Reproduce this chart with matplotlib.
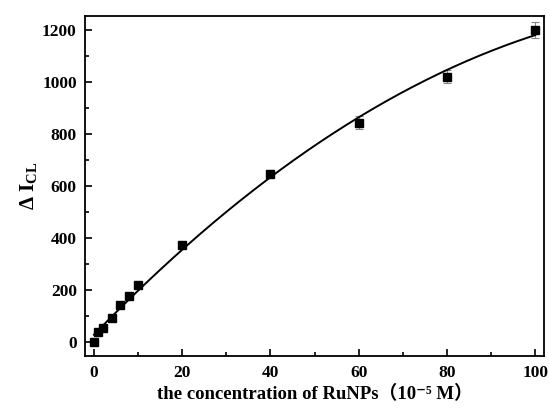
import numpy as np
import matplotlib
matplotlib.use("Agg")
import matplotlib.pyplot as plt
from matplotlib.ticker import MultipleLocator

plt.rcParams['font.family'] = ['Liberation Serif', 'Noto Sans CJK SC', 'DejaVu Sans']
plt.rcParams['font.weight'] = 'bold'
plt.rcParams['mathtext.fontset'] = 'custom'
plt.rcParams['mathtext.rm'] = 'Liberation Serif:bold'
plt.rcParams['mathtext.it'] = 'Liberation Serif:bold'
plt.rcParams['mathtext.bf'] = 'Liberation Serif:bold'

# data
conc = [0, 1, 2, 4, 6, 8, 10, 20, 40, 60, 80, 100]
dI = [0, 39, 56, 92, 145, 178, 220, 372, 648, 843, 1020, 1200]
err = [8, 8, 8, 8, 8, 8, 8, 10, 12, 25, 25, 30]

x = np.array(conc, dtype=float)
y = np.array(dI, dtype=float)

# quadratic fit line
coef = np.polyfit(x, y, 2)
xf = np.linspace(0, 100, 200)
yf = np.polyval(coef, xf)

fig = plt.figure(figsize=(5.49, 4.08), dpi=100)
ax = fig.add_axes([0.155, 0.127, 0.836, 0.834])

ax.plot(xf, yf, color='black', lw=1.4, zorder=2)
ax.errorbar(x, y, yerr=err, fmt='none', ecolor='#888888', elinewidth=0.8,
            capsize=3, capthick=0.8, zorder=1)
ax.plot(x, y, 's', color='black', ms=6, zorder=3)

ax.set_xlim(-2, 102)
ax.set_ylim(-53, 1253)
ax.xaxis.set_major_locator(MultipleLocator(20))
ax.xaxis.set_minor_locator(MultipleLocator(10))
ax.yaxis.set_major_locator(MultipleLocator(200))
ax.yaxis.set_minor_locator(MultipleLocator(100))
ax.tick_params(which='both', direction='in', top=False, right=False, width=1.2)
ax.tick_params(which='major', length=5, labelsize=12.5, pad=6)
ax.tick_params(which='minor', length=3)
for s in ax.spines.values():
    s.set_linewidth(1.3)

ax.set_xlabel('the concentration of RuNPs（10⁻⁵ M）', fontsize=13.5,
              fontweight='bold', labelpad=3)
ax.set_ylabel(r'$\Delta$ I$_{\mathregular{CL}}$', fontsize=15, fontweight='bold',
              labelpad=2)

fig.savefig('out.png', dpi=100)
